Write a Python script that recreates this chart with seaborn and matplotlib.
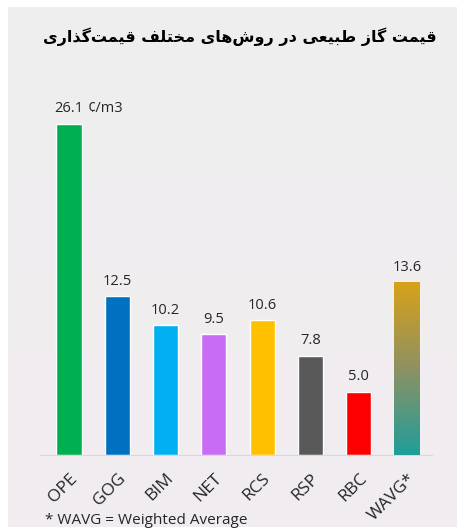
import numpy as np
import matplotlib
matplotlib.use("Agg")
import matplotlib.pyplot as plt
import seaborn as sns
from matplotlib.colors import LinearSegmentedColormap

# chart data
title_fa = "قیمت گاز طبیعی در روش\u200cهای مختلف قیمت\u200cگذاری"
methods = ["OPE", "GOG", "BIM", "NET", "RCS", "RSP", "RBC", "WAVG*"]
prices = [26.1, 12.5, 10.2, 9.5, 10.6, 7.8, 5.0, 13.6]
bar_colors = ["#00b050", "#0070c0", "#00b0f0", "#c86cf5",
              "#ffc000", "#595959", "#ff0000", "#1f9e9a"]
unit = "¢/m3"
footnote = "* WAVG = Weighted Average"

# Arabic-script shaping (isolated, final, initial, medial presentation forms)
FORMS = {
    "ا": ("\uFE8D", "\uFE8E", None, None),
    "ب": ("\uFE8F", "\uFE90", "\uFE91", "\uFE92"),
    "ت": ("\uFE95", "\uFE96", "\uFE97", "\uFE98"),
    "خ": ("\uFEA5", "\uFEA6", "\uFEA7", "\uFEA8"),
    "د": ("\uFEA9", "\uFEAA", None, None),
    "ذ": ("\uFEAB", "\uFEAC", None, None),
    "ر": ("\uFEAD", "\uFEAE", None, None),
    "ز": ("\uFEAF", "\uFEB0", None, None),
    "ش": ("\uFEB5", "\uFEB6", "\uFEB7", "\uFEB8"),
    "ط": ("\uFEC1", "\uFEC2", "\uFEC3", "\uFEC4"),
    "ع": ("\uFEC9", "\uFECA", "\uFECB", "\uFECC"),
    "ف": ("\uFED1", "\uFED2", "\uFED3", "\uFED4"),
    "ق": ("\uFED5", "\uFED6", "\uFED7", "\uFED8"),
    "ل": ("\uFEDD", "\uFEDE", "\uFEDF", "\uFEE0"),
    "م": ("\uFEE1", "\uFEE2", "\uFEE3", "\uFEE4"),
    "ه": ("\uFEE9", "\uFEEA", "\uFEEB", "\uFEEC"),
    "و": ("\uFEED", "\uFEEE", None, None),
    "گ": ("\uFB92", "\uFB93", "\uFB94", "\uFB95"),
    "ی": ("\uFBFC", "\uFBFD", "\uFBFE", "\uFBFF"),
}


def shape_fa(s):
    out = []
    for i, ch in enumerate(s):
        if ch not in FORMS:
            if ch != "\u200c":
                out.append(ch)
            continue
        prev = s[i - 1] if i > 0 else ""
        nxt = s[i + 1] if i + 1 < len(s) else ""
        join_prev = prev in FORMS and FORMS[prev][2] is not None
        join_next = nxt in FORMS and FORMS[ch][2] is not None
        iso, fin, ini, med = FORMS[ch]
        if join_prev and join_next:
            out.append(med)
        elif join_prev:
            out.append(fin)
        elif join_next:
            out.append(ini)
        else:
            out.append(iso)
    return "".join(out)[::-1]


sns.set_style("white")
plt.rcParams["font.family"] = ["Open Sans", "DejaVu Sans"]

W, H = 457, 531
fig = plt.figure(figsize=(W / 100, H / 100), dpi=100)
fig.patch.set_facecolor("white")

# light grey panel behind the chart
bg = fig.add_axes([8 / W, 4 / H, 449 / W, 520 / H])
grad = np.linspace(0, 1, 256).reshape(-1, 1)
bg_cmap = LinearSegmentedColormap.from_list("bg", ["#efefef", "#f1ecf0"])
bg.imshow(grad, aspect="auto", cmap=bg_cmap, extent=[0, 1, 0, 1], origin="upper")
bg.axis("off")

ax = fig.add_axes([40 / W, (H - 455) / H, 392 / W, 381 / H])
ax.patch.set_alpha(0)
sns.barplot(x=methods, y=prices, hue=methods, palette=bar_colors, legend=False,
            width=0.52, saturation=1, ax=ax)

# gradient fill for the weighted average bar
wavg = ax.patches[-1]
x0, y0 = wavg.get_x(), wavg.get_y()
bw, bh = wavg.get_width(), wavg.get_height()
g_cmap = LinearSegmentedColormap.from_list("wavg", ["#1f9e9a", "#8e9163", "#d8a11a"])
im = ax.imshow(np.linspace(0, 1, 256).reshape(-1, 1), aspect="auto", cmap=g_cmap,
               extent=[x0, x0 + bw, y0, y0 + bh], origin="lower", zorder=3)
im.set_clip_path(wavg)
ax.set_xlim(-0.6, 7.52)
ax.set_ylim(0, 30)

for i, v in enumerate(prices):
    ax.annotate(f"{v:.1f}", (i, v), xytext=(0, 5.5), textcoords="offset points",
                ha="center", va="bottom", fontsize=10.5, color="#262626")
ax.annotate(unit, (0, prices[0]), xytext=(13.3, 5.5), textcoords="offset points",
            ha="left", va="bottom", fontsize=10.5, color="#262626")

sns.despine(ax=ax, left=True)
ax.spines["bottom"].set_color("#d9d9d9")
ax.set_yticks([])
ax.set_xlabel("")
ax.set_ylabel("")
ax.set_xticks(range(len(methods)))
ax.set_xticklabels(methods, rotation=45, ha="right", rotation_mode="anchor",
                   fontsize=12.5, color="#262626")
ax.tick_params(axis="x", length=0, pad=11)

fig.text(240 / W, 1 - 37 / H, shape_fa(title_fa), ha="center", va="center",
         fontsize=11.5, fontweight="bold", family=["DejaVu Sans"], color="black")
fig.text(45 / W, 1 - 520 / H, footnote, ha="left", va="center",
         fontsize=11, color="#262626")

fig.savefig("out.png", dpi=100, facecolor=fig.get_facecolor())
